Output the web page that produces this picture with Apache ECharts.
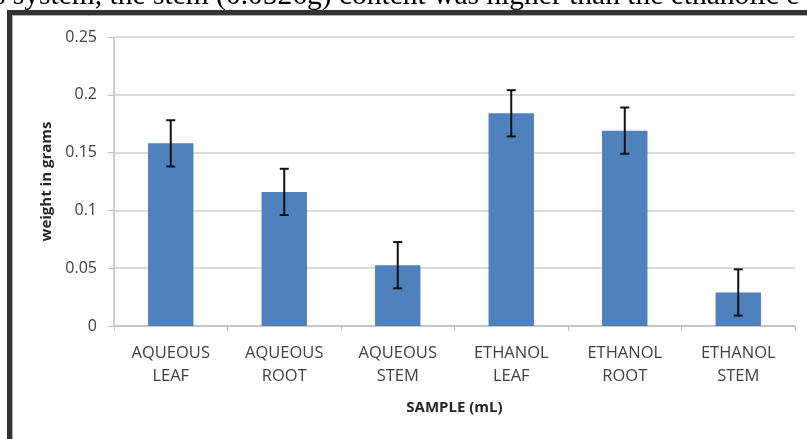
<!DOCTYPE html>
<html>
<head>
<meta charset="utf-8">
<style>html,body{margin:0;padding:0;background:#fff;}#c{width:807px;height:439px;}</style>
<script src="https://cdn.jsdelivr.net/npm/echarts@6/dist/echarts.min.js"></script>
</head>
<body>
<div id="c"></div>
<script>
var categories = ['AQUEOUS\nLEAF', 'AQUEOUS\nROOT', 'AQUEOUS\nSTEM', 'ETHANOL\nLEAF', 'ETHANOL\nROOT', 'ETHANOL\nSTEM'];
var weights = [0.158, 0.116, 0.0526, 0.184, 0.169, 0.029];
var errors = [0.02, 0.02, 0.02, 0.02, 0.02, 0.02];
var yTickLabels = ['0', '0.05', '0.1', '0.15', '0.2', '0.25'];
var captionText = 's system, the stem (0.0526g) content was higher than the ethanolic e';

var errData = weights.map(function (v, i) { return [i, v - errors[i], v + errors[i]]; });

var chart = echarts.init(document.getElementById('c'), null, { renderer: 'canvas' });
var font = '"Open Sans", "Noto Sans", sans-serif';
chart.setOption({
  animation: false,
  backgroundColor: '#fff',
  grid: { left: 114, right: 12, top: 37, bottom: 113, containLabel: false },
  graphic: [
    { type: 'text', left: -6, top: -19, silent: true, z: -1,
      style: { text: captionText, font: '29.5px "Liberation Serif", "DejaVu Serif", serif', fill: '#000' } },
    { type: 'rect', shape: { x: 7, y: 10, width: 810, height: 5 }, style: { fill: '#333' } },
    { type: 'rect', shape: { x: 7, y: 10, width: 5, height: 440 }, style: { fill: '#333' } },
    { type: 'rect', shape: { x: 12, y: 15, width: 800, height: 1 }, style: { fill: '#b0b0b0' } },
    { type: 'rect', shape: { x: 12, y: 15, width: 1, height: 430 }, style: { fill: '#b0b0b0' } }
  ],
  xAxis: {
    type: 'category',
    data: categories,
    boundaryGap: true,
    name: 'SAMPLE (mL)',
    nameLocation: 'middle',
    nameGap: 74,
    nameTextStyle: { fontFamily: font, fontSize: 15, fontWeight: 'bold', color: '#262626' },
    axisLine: { lineStyle: { color: '#bfbfbf', width: 1.5 } },
    axisTick: { show: true, length: 5, lineStyle: { color: '#bfbfbf' } },
    axisLabel: { fontFamily: font, fontSize: 16.5, color: '#404040', lineHeight: 23, margin: 16, interval: 0 },
    splitLine: { show: false }
  },
  yAxis: {
    type: 'value',
    min: 0, max: 0.25, interval: 0.05,
    name: 'weight in grams',
    nameLocation: 'middle',
    nameGap: 57,
    nameTextStyle: { fontFamily: font, fontSize: 15, fontWeight: 'bold', color: '#262626' },
    axisLine: { show: true, lineStyle: { color: '#bfbfbf', width: 1.5 } },
    axisTick: { show: true, length: 6, lineStyle: { color: '#bfbfbf' } },
    axisLabel: {
      fontFamily: font, fontSize: 16, color: '#404040', margin: 17,
      formatter: function (v) { return yTickLabels[Math.round(v / 0.05)]; }
    },
    splitLine: { lineStyle: { color: '#d0d0d0', width: 1.5 } }
  },
  series: [
    { type: 'bar', data: weights, barWidth: '40%', itemStyle: { color: '#4f81bd' }, z: 2 },
    {
      type: 'custom', data: errData, z: 5,
      renderItem: function (params, api) {
        var i = api.value(0);
        var lo = api.coord([i, api.value(1)]);
        var hi = api.coord([i, api.value(2)]);
        var x = lo[0], cap = 4.5;
        var st = { stroke: '#111', lineWidth: 2 };
        return { type: 'group', children: [
          { type: 'line', shape: { x1: x, y1: lo[1], x2: x, y2: hi[1] }, style: st },
          { type: 'line', shape: { x1: x - cap, y1: lo[1], x2: x + cap, y2: lo[1] }, style: st },
          { type: 'line', shape: { x1: x - cap, y1: hi[1], x2: x + cap, y2: hi[1] }, style: st }
        ] };
      }
    }
  ]
});
</script>
</body>
</html>
